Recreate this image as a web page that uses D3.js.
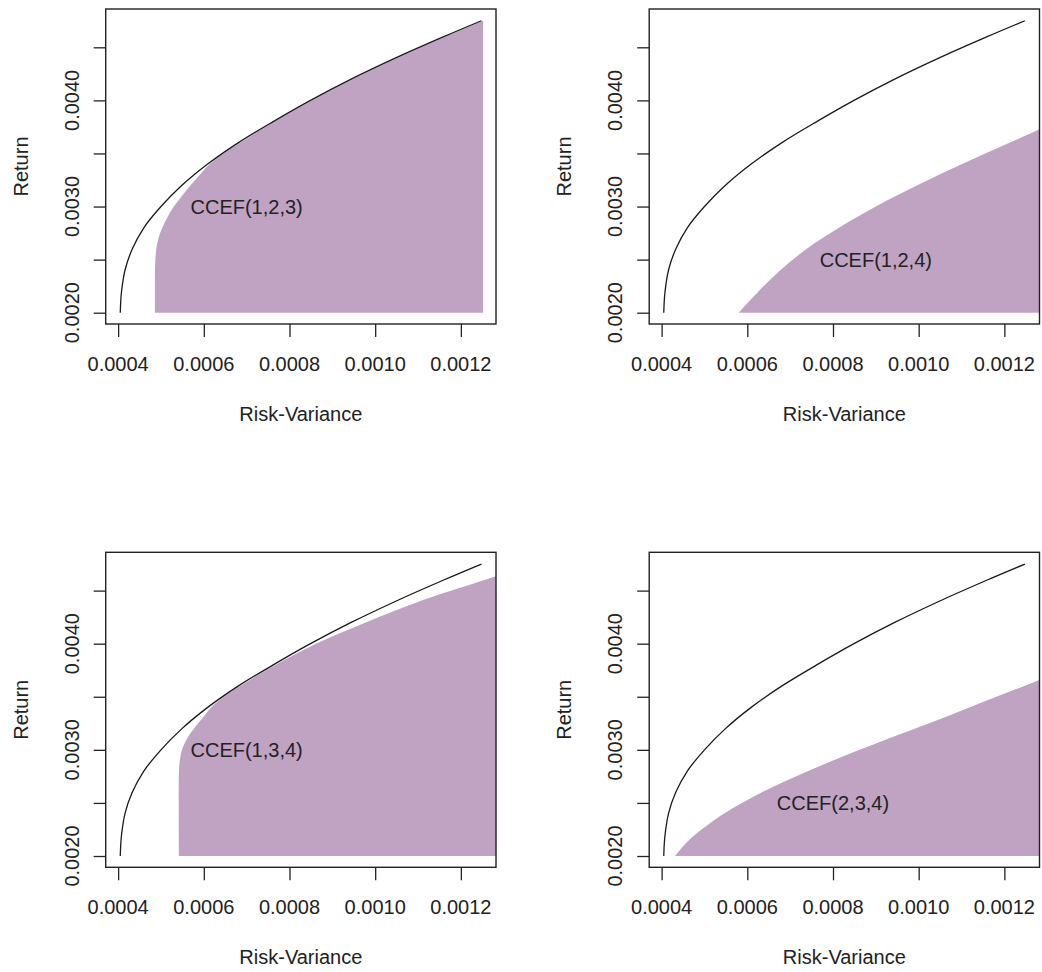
<!DOCTYPE html>
<html>
<head>
<meta charset="utf-8">
<script src="https://cdn.jsdelivr.net/npm/d3@7"></script>
<style>
  html, body { margin: 0; padding: 0; background: #fff; }
  svg { display: block; }
  text { font-family: "Liberation Sans", Arial, Helvetica, sans-serif; fill: #222; }
</style>
</head>
<body>
<svg id="chart" width="1042" height="972"></svg>
<script>
// ---- data ----
const frontierReturn   = [0.0020, 0.0021, 0.0022, 0.0024, 0.0026, 0.0028, 0.0030, 0.0032, 0.0034, 0.0036, 0.0038, 0.0040, 0.0042, 0.0044, 0.0046, 0.00475];
const frontierVariance = [0.000405, 0.000406, 0.000408, 0.000416, 0.000433, 0.000460, 0.000500, 0.000549, 0.000609, 0.000680, 0.000762, 0.000849, 0.000944, 0.001048, 0.001160, 0.001248];

const ccef123Return   = [0.0020, 0.0024, 0.0025, 0.0026, 0.0027, 0.0028, 0.0029, 0.0030, 0.0031, 0.0032, 0.0033, 0.0034, 0.0036, 0.0038, 0.0040, 0.0042, 0.0044, 0.0046, 0.00475];
const ccef123Variance = [0.000486, 0.000486, 0.000487, 0.000489, 0.000494, 0.000503, 0.000515, 0.000530, 0.000549, 0.000569, 0.000591, 0.000614, 0.000684, 0.000765, 0.000852, 0.000947, 0.001051, 0.001163, 0.001252];

const ccef124Return   = [0.0020, 0.0022, 0.0024, 0.0026, 0.0028, 0.0030, 0.0032, 0.0034, 0.0036, 0.0038];
const ccef124Variance = [0.000580, 0.000626, 0.000677, 0.000738, 0.000814, 0.000900, 0.000997, 0.001101, 0.001212, 0.001320];

const ccef134Return   = [0.0020, 0.0028, 0.0029, 0.0030, 0.0031, 0.0032, 0.0033, 0.0034, 0.0035, 0.0036, 0.0038, 0.0040, 0.0042, 0.0044, 0.0046, 0.00466];
const ccef134Variance = [0.000542, 0.000542, 0.000544, 0.000549, 0.000560, 0.000577, 0.000597, 0.000617, 0.000646, 0.000684, 0.000767, 0.000862, 0.000978, 0.001104, 0.001255, 0.001302];

const ccef234Return   = [0.0020, 0.0021, 0.0022, 0.0024, 0.0026, 0.0028, 0.0030, 0.0032, 0.0034, 0.0036, 0.0038];
const ccef234Variance = [0.000431, 0.000452, 0.000478, 0.000546, 0.000634, 0.000742, 0.000862, 0.000992, 0.001118, 0.001245, 0.001370];

const panelLabels   = ["CCEF(1,2,3)", "CCEF(1,2,4)", "CCEF(1,3,4)", "CCEF(2,3,4)"];
const labelVariance = [0.0007, 0.0009, 0.0007, 0.0008];
const labelReturn   = [0.0030, 0.0025, 0.0030, 0.0025];

const xTicks = [0.0004, 0.0006, 0.0008, 0.0010, 0.0012];
const xTickLabels = ["0.0004", "0.0006", "0.0008", "0.0010", "0.0012"];
const yTicks = [0.0020, 0.0025, 0.0030, 0.0035, 0.0040, 0.0045];
const yTickLabels = ["0.0020", "", "0.0030", "", "0.0040", ""];

const xTitle = "Risk-Variance";
const yTitle = "Return";

// ---- layout ----
const svg = d3.select("#chart");
const box = { left: 105.7, top: 9, width: 390.3, height: 315 };
const colOffset = [0, 543.5];
const rowOffset = [0, 543.3];
const fill = "#C0A2C3";
const ink = "#222";

const x = d3.scaleLinear().domain([0.000371, 0.001282]).range([box.left, box.left + box.width]);
const y = d3.scaleLinear().domain([0.0018936, 0.0048608]).range([box.top + box.height, box.top]);

const frontier = frontierReturn.map((r, i) => ({ r, v: frontierVariance[i] }));
const regions = [
  ccef123Return.map((r, i) => ({ r, v: ccef123Variance[i] })),
  ccef124Return.map((r, i) => ({ r, v: ccef124Variance[i] })),
  ccef134Return.map((r, i) => ({ r, v: ccef134Variance[i] })),
  ccef234Return.map((r, i) => ({ r, v: ccef234Variance[i] }))
];

const smooth = d3.curveCatmullRom.alpha(0.5);
const line = d3.line().x(d => x(d.v)).y(d => y(d.r)).curve(smooth);

regions.forEach((pts, k) => {
  const col = k % 2, row = Math.floor(k / 2);
  const g = svg.append("g").attr("transform", `translate(${colOffset[col]},${rowOffset[row]})`);

  const clipId = "clip" + k;
  g.append("clipPath").attr("id", clipId)
    .append("rect").attr("x", box.left).attr("y", box.top)
    .attr("width", box.width).attr("height", box.height);

  const rightV = Math.min(d3.max(pts, d => d.v), x.domain()[1] + 0.00005);
  const area = d3.area()
    .y(d => y(d.r))
    .x0(d => x(d.v))
    .x1(() => x(rightV))
    .curve(smooth);

  g.append("path")
    .datum(pts)
    .attr("clip-path", `url(#${clipId})`)
    .attr("d", area)
    .attr("fill", fill)
    .attr("stroke", "none");

  g.append("path")
    .datum(frontier)
    .attr("clip-path", `url(#${clipId})`)
    .attr("d", line)
    .attr("fill", "none")
    .attr("stroke", "#1a1a1a")
    .attr("stroke-width", 1.3);

  g.append("text")
    .attr("x", x(labelVariance[k]))
    .attr("y", y(labelReturn[k]))
    .attr("dy", "0.36em")
    .attr("text-anchor", "middle")
    .attr("font-size", 20)
    .text(panelLabels[k]);

  // box
  g.append("rect")
    .attr("x", box.left).attr("y", box.top)
    .attr("width", box.width).attr("height", box.height)
    .attr("fill", "none").attr("stroke", ink).attr("stroke-width", 1.4);

  // x axis
  const xAxis = g.append("g")
    .attr("transform", `translate(0,${box.top + box.height})`)
    .call(d3.axisBottom(x).tickValues(xTicks).tickSize(13).tickFormat(""));
  xAxis.select(".domain").remove();
  xAxis.selectAll(".tick line").attr("stroke", ink).attr("stroke-width", 1.3);
  g.selectAll(".xlab").data(xTicks).enter().append("text")
    .attr("class", "xlab")
    .attr("x", d => x(d))
    .attr("y", box.top + box.height + 46.5)
    .attr("text-anchor", "middle")
    .attr("font-size", 20)
    .text((d, i) => xTickLabels[i]);

  // y axis
  const yAxis = g.append("g")
    .attr("transform", `translate(${box.left},0)`)
    .call(d3.axisLeft(y).tickValues(yTicks).tickSize(12).tickFormat(""));
  yAxis.select(".domain").remove();
  yAxis.selectAll(".tick line").attr("stroke", ink).attr("stroke-width", 1.3);
  g.selectAll(".ylab").data(yTicks).enter().append("text")
    .attr("class", "ylab")
    .attr("transform", d => `translate(${box.left - 27},${y(d)}) rotate(-90)`)
    .attr("text-anchor", "middle")
    .attr("font-size", 20)
    .text((d, i) => yTickLabels[i]);

  // titles
  g.append("text")
    .attr("x", box.left + box.width / 2)
    .attr("y", box.top + box.height + 96.5)
    .attr("text-anchor", "middle")
    .attr("font-size", 20)
    .text(xTitle);
  g.append("text")
    .attr("transform", `translate(${box.left - 78},${box.top + box.height / 2}) rotate(-90)`)
    .attr("text-anchor", "middle")
    .attr("font-size", 20)
    .text(yTitle);
});
</script>
</body>
</html>
